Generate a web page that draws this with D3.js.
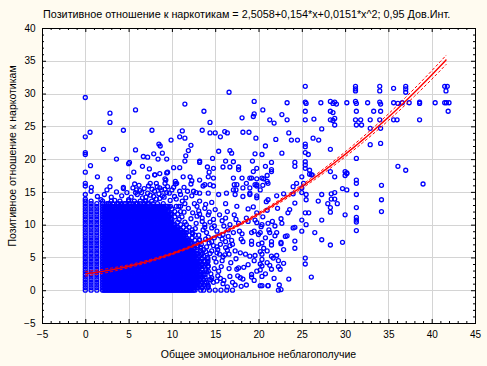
<!DOCTYPE html>
<html>
<head>
<meta charset="utf-8">
<script src="https://cdn.jsdelivr.net/npm/d3@7"></script>
<style>
body { margin: 0; background: #fffbf0; }
text { font-family: "Liberation Sans", Arial, sans-serif; font-size: 10px; fill: #000; }
.ttl { font-size: 10.8px; }
.atl { font-size: 10.5px; }
</style>
</head>
<body>
<svg width="487" height="366"></svg>
<script>
// labels
var title = "Позитивное отношение к наркотикам = 2,5058+0,154*x+0,0151*x^2; 0,95 Дов.Инт.";
var xTitle = "Общее эмоциональное неблагополучие";
var yTitle = "Позитивное отношение к наркотикам";
var xTicks = [-5, 0, 5, 10, 15, 20, 25, 30, 35, 40, 45];
var yTicks = [-5, 0, 5, 10, 15, 20, 25, 30, 35, 40];

// quadratic fit from the title, and the 0.95 band half-width
var fitCoef = [2.5058, 0.154, 0.0151];
var fitRange = [0, 41.7];
var ciX = [0, 5, 10, 15, 20, 25, 30, 35, 41.7];
var ciHalf = [0.35, 0.22, 0.15, 0.15, 0.2, 0.28, 0.38, 0.5, 0.7];

// dense core as an occupancy map: one row per y value, one character per 1/6 of x
// ("o" = a respondent there); spaces only group the characters by 2 units of x
var coreY = [0, 0.4, 0.8, 1.2, 1.6, 2.0, 2.4, 2.8, 3.2, 3.6, 4.0, 4.4, 4.8, 5.2, 5.6, 6.0, 6.4, 6.8,
  7.2, 7.6, 8.0, 8.4, 8.8, 9.2, 9.6, 10.0, 10.4, 10.8, 11.2, 11.6, 12.0, 12.4, 12.8, 13.2, 13.6];
var coreRows = [
  "o...o...o... oooooooooooo oooooooooooo oooooooooooo oooooooooooo oooooooooooo ooooo...o.o...o...o...o...o...o",
  "o...o...o... oooooooooooo oooooooooooo oooooooooooo oooooooooooo oooooooooooo ooooooo..o...o",
  "o...o...o... oooooooooooo oooooooooooo oooooooooooo oooooooooooo oooooooooooo ooooooooo.o..o",
  "o...o...o... oooooooooooo oooooooooooo oooooooooooo oooooooooooo oooooooooooo ooooooo..o..o",
  "o...o...o... oooooooooooo oooooooooooo oooooooooooo oooooooooooo oooooooooooo ooooooooo.o...o",
  "o...o...o... oooooooooooo oooooooooooo oooooooooooo oooooooooooo oooooooooooo ooooooo..o.o",
  "o...o...o... oooooooooooo oooooooooooo oooooooooooo oooooooooooo oooooooooooo ooooooooo..o",
  "o...o...o... oooooooooooo oooooooooooo oooooooooooo oooooooooooo oooooooooooo ooooooooo...o",
  "o...o...o... oooooooooooo oooooooooooo oooooooooooo oooooooooooo oooooooooooo ooooooo..o",
  "o...o...o... oooooooooooo oooooooooooo oooooooooooo oooooooooooo oooooooooooo ooooooooo.o..o",
  "o...o...o... oooooooooooo oooooooooooo oooooooooooo oooooooooooo oooooooooooo ooooooo..o..o",
  "o...o...o... oooooooooooo oooooooooooo oooooooooooo oooooooooooo oooooooooooo ooooooooo.o..o",
  "o...o...o... oooooooooooo oooooooooooo oooooooooooo oooooooooooo oooooooooooo ooooooo..o...o",
  "o...o...o... oooooooooooo oooooooooooo oooooooooooo oooooooooooo oooooooooooo ooooo..o..o",
  "o...o...o... oooooooooooo oooooooooooo oooooooooooo oooooooooooo oooooooooooo ooooooo..o",
  "o...o...o... oooooooooooo oooooooooooo oooooooooooo oooooooooooo oooooooooooo ooo..o..o",
  "o...o...o... oooooooooooo oooooooooooo oooooooooooo oooooooooooo oooooooooooo ooooo...o",
  "o...o...o... oooooooooooo oooooooooooo oooooooooooo oooooooooooo oooooooooooo o..o..o",
  "o...o...o... oooooooooooo oooooooooooo oooooooooooo oooooooooooo oooooooooooo ooo...o",
  "o...o...o... oooooooooooo oooooooooooo oooooooooooo oooooooooooo oooooooooooo o...o..o",
  "o...o...o... oooooooooooo oooooooooooo oooooooooooo oooooooooooo ooooooooooo...o",
  "o...o...o... oooooooooooo oooooooooooo oooooooooooo oooooooooooo ooooooooo...o...o",
  "o...o...o... oooooooooooo oooooooooooo oooooooooooo oooooooooooo ooooooooooo...o",
  "o...o...o... oooooooooooo oooooooooooo oooooooooooo oooooooooooo ooooooo...o...o",
  "o...o...o... oooooooooooo oooooooooooo oooooooooooo oooooooooooo ooooo...o...o",
  "o...o...o... oooooooooooo oooooooooooo oooooooooooo oooooooooooo ooo...o...o",
  "o...o...o... oooooooooooo oooooooooooo oooooooooooo oooooooooooo o...o....o",
  "o...o...o... oooooooooooo oooooooooooo oooooooooooo oooooooooooo o....o",
  "o...o...o... oooooooooooo oooooooooooo oooooooooooo ooooooooooo...o....o",
  "o...o...o... oooooooooooo oooooooooooo oooooooooooo oooooooooooo o...o",
  "o...o...o... oooooooooooo oooooooooooo oooooooooooo ooooooooooo...o...o",
  "o...o...o... oooooooooooo oooooooooooo oooooooooooo ooooooooo...o",
  "o...o...o... oooooooo..oo oooooo.ooooo oooooooo..oo ooooooo.oooo ...o..o",
  "o...o...o... o..ooo.o..oo .o.oo..o.o.o o.o..o.oo..o ..o...o",
  "o...o....... o.....o..... o.....o...o. ..o...o...o"
];

// points just above the core
var bandPts = [[0,14.6],[0.67,15.1],[0,13.9],[1.4,14.3],[2.2,14.6],[3,14.2],[3.6,15],[4.2,14.4],[4.8,14.9],
  [5.3,14.2],[6,14.6],[6.6,14.1],[7.2,14.8],[7.9,14.3],[8.5,14.7],[9.1,14.2],[9.7,14.8],[10.3,14.3],[11,14.6],
  [11.6,14.1],[12.3,14.4],[1.8,13.8],[3.4,13.7],[5,13.8],[6.9,13.6],[8.2,13.9],[9.8,13.7],[11.2,13.6],[12.6,13.2],
  [2.5,15.3],[4.4,15.5],[6.3,15.2],[8,15.1],[9.2,15.4],[11.8,15.1],[12.8,14.9],[10,15.3],[10.9,15.1],[12.5,15.1],
  [13.2,14.8],[14.2,14.8],[15.4,14.6],[16.3,14.8],[17.1,15.3],[17.3,14.6],[18.2,14.3],[19,14.6],[19.8,14.1],
  [5.5,15.6],[6.2,16],[6.8,15.5],[7.3,15.9],[7.7,15.4],[8.3,15.8],[8.8,15.3],[9.5,15.8],[6.5,14.9],[7.5,14.5],
  [8.9,14.4],[9.4,14.9],[10.2,15.7],[5.8,14.9],[7,14.2],[8.6,14],[10.5,13.9],[11.5,13.2],[10.8,12.8],[11.9,12.5],
  [12.4,11.8],[11.4,11.9],[12.2,10.9],[12.8,10.2],[13.2,11.6],[12.9,12.8],[13.9,13.1]];

// right edge of the core, x 11..22
var fringePts = [[14.2,11.5],[13.5,11],[14.8,10.8],[15.5,11.5],[13.8,10],[14.6,9.5],[15.2,9],[16,9.8],[14,8.8],
  [14.9,8],[15.8,7.8],[16.5,8.2],[14.3,7.2],[15.2,6.6],[16.2,6.5],[17,7],[14.6,6],[15.5,5.5],[16.6,5.5],[17.3,6],
  [14.1,5],[15.8,4.5],[16.8,4.2],[17.4,4.8],[14.2,3.7],[16.6,3.3],[17.5,3.2],[14.5,2.5],[15.3,2.2],[16,1.5],[17,1.2],
  [14.8,1.2],[16.4,0.5],[18,0.6],[17.6,2.2],[18.3,3.5],[18.5,5.5],[18,7.8],[17.8,9],[18.6,11],[17.2,11.5],[16.4,12],
  [15,12.3],[13.8,12.5],[17.5,12.8],[18.8,12.4],[16.2,13.2],[14.6,13.4],[13.2,13.6],
  [16.7,10],[17.7,10.2],[18.8,10.5],[19.8,10.3],[15.9,8.5],[17.1,8.8],[18.1,8.6],[19.2,8.8],
  [15.6,7],[16.7,6.8],[18.2,7.4],[19.2,7],[15.2,5.7],[16.1,5.4],[17.9,5.7],[19,5.2],
  [17.7,3.4],[18.8,3.9],[15.6,1.8],[16.7,2.1],[17.9,1.9],[19.2,2.4],
  [15.9,1],[17.3,0.8],[18.6,0.8],[18.2,1.7],[19.2,2],[22.3,0],
  [13.6,9.2],[14.4,10.4],[13.1,8.4],[13.9,7.8],[13.4,7],[14.8,6.8],[14.4,5.6],[13.8,4.4],[14.9,4.9],
  [13.9,3.1],[14.6,1.9],[13.6,1.6],[14.2,0.6],[13.5,0.4],[12.7,9.4],[12.4,8.6],
  [13.4,5.4],[13.7,6.2],[14,6.6],[13.5,3.8],[14.1,4.2],[13.6,2.4],[14.2,2.9],[14.9,3.3],[13.8,1.1],[14.5,1.6],
  [15.2,1.4],[15.4,2.9],[15.1,4.3],[15.7,3.6],[15.9,5.1],[15.3,6.2],[14.6,7.4],[15.5,8.3],[14.2,8.1],[13.8,9.6],
  [14.9,9.8],[15.8,10.6],[13.5,10.5],[14.3,11.9],[12.9,11.3],[13.1,12.1],[16.4,6.1],[16.2,7.4],[16.9,7.6],
  [16.5,9.2],[16.2,11],[17.4,10.8],[13.3,6.6],[13.2,7.7],[13.9,5.9],
  [19.5,9],[20,8.5],[20.8,8],[19.2,7.5],[20,7],[21,6],[19.5,4.5],[21,4.2],[20.8,2.5],[19.5,1.5],[21.8,1.8],
  [20.3,9.7],[21.2,9.2],[21.6,10.5],[20.5,11.2],[19.8,11.8],[21,12.2],[22.2,12.5],[19,14.8],[19.4,12.7],[19.6,10.7]];

// upper left, y above 15
var upperPts = [[0,29.4],[16.6,30.2],[11.5,28.4],[5.8,27.5],[2.85,27],[2.85,25.6],[13.7,27.3],[14.4,25.6],
  [19.5,28.8],[18.1,26.3],[19.4,26.5],[19.5,26.9],[0.55,24.1],[0,23.4],[4.4,24.4],[7.7,24.4],[11.2,24.3],
  [10.9,23.4],[11.5,23.2],[13.5,24.4],[14.4,24],[15,24],[15.6,23.4],[16.1,24.2],[16.4,24],[18.2,24.1],[18.9,24.1],
  [19.7,23.2],[8.5,22.3],[8.65,22],[9.9,22.9],[12.2,22.1],[2.1,21.5],[5.8,21.4],[0,20.7],[0,21],[7.9,20.8],
  [8.9,20.9],[11.9,21.3],[11.6,20.5],[15.4,21.2],[16.7,21.3],[16.9,20.9],[19.6,20.8],[3.6,20],[5.1,19.5],[5,19.3],
  [6.7,20.4],[7.2,20.3],[8.4,20],[9.4,20],[11.5,19.7],[13.2,19.7],[14.7,20.1],[16.2,19.7],[17.1,19.6],[19.3,19.7],
  [0,18],[0.6,19],[1.4,17.3],[2.85,17],[5.6,18],[6.6,18.9],[7.4,18.5],[7.2,17.3],[8,17.6],[8.6,17.8],[9.5,18],
  [9.2,17],[10.2,18.7],[10.9,18.7],[12.3,16.7],[13.2,19.5],[14.1,18.8],[14.3,18],[14.2,17.3],[15.9,18.8],
  [16.7,18.8],[17.7,18.8],[17.1,17.1],[18.1,17.1],[19.2,17.1],[19.8,18.6],[0,16.3],[0,15.9],[0.7,15.7],
  [2.85,15.8],[4.4,15.7],[5,17.3],[5.7,16.2],[5.9,15.3],[7.5,16.3],[8.2,16.3],[8.6,15.6],[9.3,16.8],[10.4,16.6],
  [10.4,16.2],[11.4,15.7],[12.2,16.2],[13.2,16.8],[13.6,15.9],[14.8,15.9],[17.2,16.1],[17.4,15.3],[18.2,15.6],
  [19,15.6],[19.8,15.9],[14.8,18.6],[17.7,18.4],[11.3,17.3],[12.1,17.3],[14.8,17.1],[19,17.1],[9.2,16.3],
  [10.55,16.3],[13.8,16.1],[14.4,16.1],[17.5,16.1],[18.6,16.3],[19.8,16.1],[8.05,17.6],[9.4,17.9]];

// x above 20
var rightPts = [[25.4,31.1],[31.2,31.1],[31.2,30.7],[31.2,30.4],[34,31.1],[34,30.4],[35.6,30.8],[37,31.1],
  [37,30.7],[37,30.2],[41.5,31.1],[41.8,31.1],[41.65,30.4],
  [23.3,28.6],[25.4,28.7],[25.5,28.5],[27.2,28.6],[28.3,28.8],[28.6,28.5],[28.8,28.7],[29,28.4],[30.2,28.6],
  [31.2,28.8],[31.3,28.5],[32.6,28.6],[34,28.7],[34.1,28.4],[35.6,28.6],[36.1,28.5],[36.6,28.6],[37.4,28.6],
  [38.6,28.7],[38.6,28.5],[40.4,28.6],[41.5,28.6],[41.7,28.6],[42,28.6],
  [25.4,27.3],[28.3,27.3],[28.6,27.1],[31.3,27.3],[33.3,27.3],[34.1,27.3],[41.9,27.3],
  [23.3,26],[25.4,26],[26.4,26.1],[28.3,26],[28.6,25.9],[28.8,26.2],[31.2,26],[31.8,26],[32.9,26],[34,26],
  [35.6,26],[36,26],[38.6,26],[28.8,25.2],[31.3,25.2],[31.9,25.2],
  [23.5,24],[27.3,24.6],[32.9,24.7],[34.1,24.7],[23.8,22.9],[24.5,22.9],[26.3,23.2],[26.95,22.9],[25.4,22.3],
  [25.4,21.9],[25.4,21],[28.3,21.5],[32.9,22.2],[34.1,22.4],[25.75,20.7],[25.4,19.6],[25.4,19.1],[25.4,18.6],
  [24.2,19.5],[24.2,18.9],[31.3,20.1],[36.1,18.9],[37,18.3],[26.2,17.6],[28.3,18.1],[30.2,17.9],[30,17.5],
  [31.3,16.8],[28.8,17.3],[22.7,26.8],[22.7,20.9],[20.5,27.5],[21.3,26],[21.8,25.5],[22,23],[20.8,22],
  [21.5,19.5],[21,17.5],[20.4,20.7],[20.8,18.9],[21.5,18.4],[20.4,17.1],[21,16.6],
  [39,16.2],[34.2,16],[34.2,13.8],[34.2,12],[31.3,16.3],[31.3,14.6],[31.3,12.6],[31.3,11.1],[31.3,10.7],
  [31.3,10.4],[31.3,9.1],[29.7,15.5],[30.2,15.3],[30,11.5],[29.7,7.3],[30,18.1],[30.2,17.8],[28.4,14.7],
  [28.8,14.9],[28.4,13.9],[28.8,13.9],[29.1,13.2],[28,13.2],[28.3,12.6],[28.3,11.9],[27.3,14.6],[26.9,13.6],
  [27.3,10.7],[26.5,8.8],[27.3,7.7],[28.3,6.9],[26.1,2],[25.4,4.9],[25.4,4],[25,10.7],[25,9],[25.5,10],
  [25.4,11.8],[25.8,11.8],[25.5,14.6],[25.5,13.8],[25.2,16.3],[25,15.6],[25,17.3],[25.9,17.7],[26.1,17.6],
  [25.9,18.3],[24.2,13.3],[23.6,12.3],[23.4,11.8],[22.6,10.9],[22.7,10.2],[24,9.5],[24.2,9.6],[23.3,8.3],
  [22.9,6.2],[21.7,4.9],[22.3,4.5],[22.9,4.1],[22.3,3.6],[21.5,3.2],[22.5,3.2],[22.4,0.8],[22.6,0.1],[23.5,1.7],
  [21.1,0.7],[20.4,0.7],[24,15.8],[24.4,16.3],[25,14.9],[24,14.7],[22.9,14.7],[22.1,14.4],[21.1,13.8],
  [20.9,13.5],[20.2,15.3],[19.8,14.4],[19.6,16.1],[21.5,18.1],[20.6,17],[19.4,18.1],[19.8,17],[20.5,16],
  [21.1,16.3],[23.1,8.2],[22.6,7.3],[22.6,7.1],[24.2,7.5],[24.2,6.4],[21.9,8.3],[21.5,6.9],[20.6,6.4],
  [20.2,5.9],[19.6,5.3],[20.4,4.7],[20.4,3.7],[20.2,3.1],[19.8,2.9],[20.4,10],[21.1,10.2],[21.9,9.8],
  [20.2,8.8],[21.3,8.8],[22.1,8.8],[20.4,7.2],[21.5,7.4],[20.4,5.5],[21.5,5.2],[22.1,5.3],[20.2,4],[21.3,3.8],
  [20.4,2.1],[20.2,0.7],[21.1,0.7]];

var svg = d3.select("svg"),
    W = 487, H = 366;

var x = d3.scaleLinear().domain([-5, 45]).range([42, 475]);
var y = d3.scaleLinear().domain([-5, 40]).range([323, 28]);
var snap = function(v) { return Math.round(v) + 0.5; };

svg.append("rect").attr("width", W).attr("height", H).attr("fill", "#fffbf0");
svg.append("rect")
    .attr("x", 42).attr("y", 28)
    .attr("width", 433).attr("height", 295)
    .attr("fill", "#fff");

// grid lines
var grid = svg.append("g").attr("stroke", "#d4d4d4").attr("stroke-width", 1);
grid.selectAll(".gx").data(xTicks.slice(1, -1)).enter().append("line")
    .attr("x1", function(d) { return snap(x(d)); })
    .attr("x2", function(d) { return snap(x(d)); })
    .attr("y1", 28).attr("y2", 323);
grid.selectAll(".gy").data(yTicks.slice(1, -1)).enter().append("line")
    .attr("y1", function(d) { return snap(y(d)); })
    .attr("y2", function(d) { return snap(y(d)); })
    .attr("x1", 42).attr("x2", 475);

// collect all points
var points = [];
coreRows.forEach(function(row, r) {
    row.replace(/ /g, "").split("").forEach(function(c, i) {
        if (c == "o") points.push([i / 6, coreY[r]]);
    });
});
points = points.concat(bandPts, fringePts, upperPts, rightPts);

svg.append("g")
    .attr("fill", "none")
    .attr("stroke", "#0000ff")
    .attr("stroke-width", 1.3)
  .selectAll("circle")
  .data(points)
  .enter().append("circle")
    .attr("cx", function(d) { return x(d[0]); })
    .attr("cy", function(d) { return y(d[1]); })
    .attr("r", 2.0);

// fit line and confidence band
var fit = function(v) { return fitCoef[0] + fitCoef[1] * v + fitCoef[2] * v * v; };
var half = d3.scaleLinear().domain(ciX).range(ciHalf);
var xs = d3.range(fitRange[0], fitRange[1], 0.5).concat([fitRange[1]]);

var line = d3.line()
    .x(function(d) { return x(d[0]); })
    .y(function(d) { return y(d[1]); });

svg.append("path")
    .attr("d", line(xs.map(function(v) { return [v, fit(v)]; })))
    .attr("fill", "none").attr("stroke", "#ff0000").attr("stroke-width", 1.4);
[-1, 1].forEach(function(s) {
    svg.append("path")
        .attr("d", line(xs.map(function(v) { return [v, fit(v) + s * half(v)]; })))
        .attr("fill", "none").attr("stroke", "#ff0000").attr("stroke-width", 1)
        .attr("stroke-dasharray", "3,2");
});

// axes
var minorX = d3.range(-5, 46, 1).filter(function(d) { return d % 5 != 0; });
var minorY = d3.range(-5, 41, 1).filter(function(d) { return d % 5 != 0; });

function drawAxis(axis, tx, ty) {
    var g = svg.append("g").attr("transform", "translate(" + tx + "," + ty + ")").call(axis);
    g.select(".domain").remove();
    g.attr("font-family", null).attr("font-size", null);
    return g;
}

drawAxis(d3.axisBottom(x).tickValues(xTicks).tickSize(-4).tickPadding(8), 0, 323);
drawAxis(d3.axisBottom(x).tickValues(minorX).tickSize(-2).tickFormat(""), 0, 323);
drawAxis(d3.axisTop(x).tickValues(xTicks).tickSize(-4).tickFormat(""), 0, 28);
drawAxis(d3.axisTop(x).tickValues(minorX).tickSize(-2).tickFormat(""), 0, 28);
drawAxis(d3.axisLeft(y).tickValues(yTicks).tickSize(-4).tickPadding(6.5), 42, 0);
drawAxis(d3.axisLeft(y).tickValues(minorY).tickSize(-2).tickFormat(""), 42, 0);
drawAxis(d3.axisRight(y).tickValues(yTicks).tickSize(-4).tickFormat(""), 475, 0);
drawAxis(d3.axisRight(y).tickValues(minorY).tickSize(-2).tickFormat(""), 475, 0);

svg.selectAll(".tick text").attr("fill", "#000");

// frame
svg.append("rect")
    .attr("x", 42.5).attr("y", 28.5)
    .attr("width", 433).attr("height", 295)
    .attr("fill", "none").attr("stroke", "#000");

// titles
svg.append("text").attr("class", "ttl").attr("x", 43).attr("y", 18).text(title);
svg.append("text").attr("class", "atl").attr("x", 258.5).attr("y", 357.5)
    .attr("text-anchor", "middle").text(xTitle);
svg.append("text").attr("class", "atl")
    .attr("transform", "translate(15.5,156) rotate(-90)")
    .attr("text-anchor", "middle")
    .text(yTitle);
</script>
</body>
</html>
